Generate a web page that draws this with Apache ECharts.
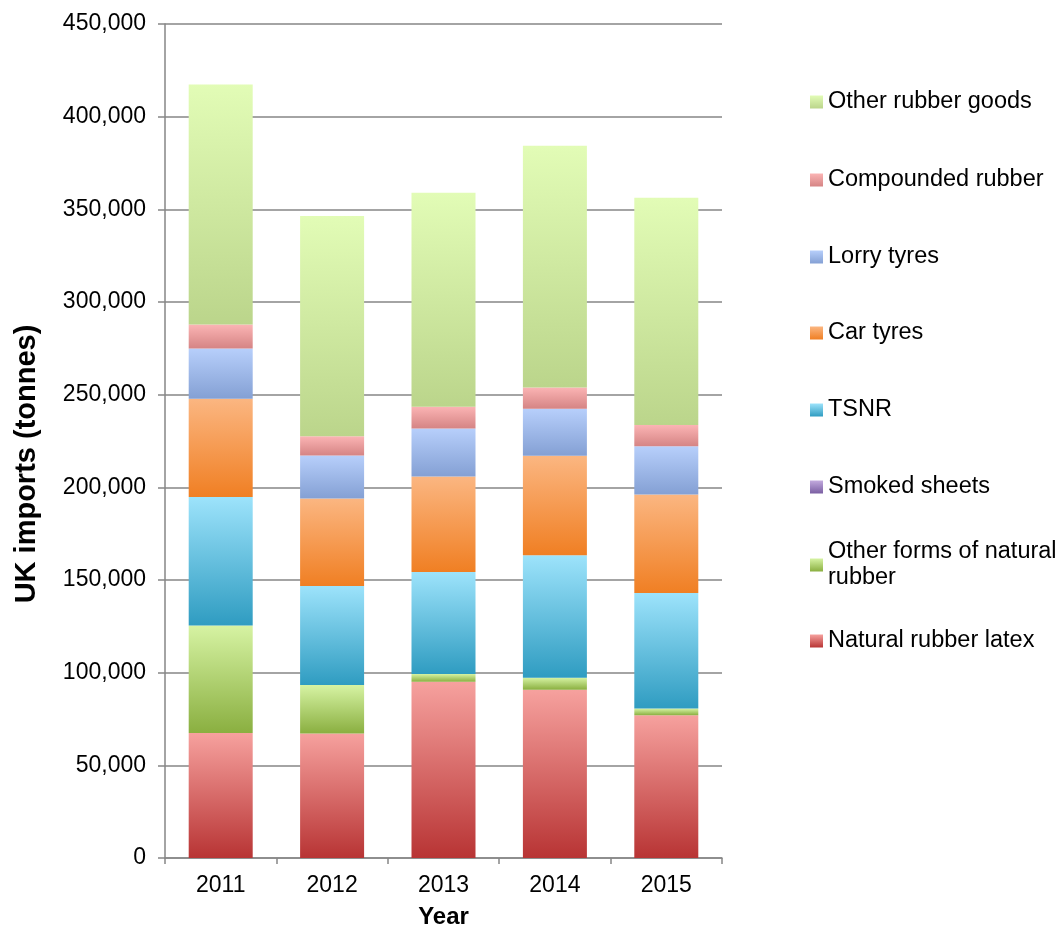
<!DOCTYPE html>
<html>
<head>
<meta charset="utf-8">
<script src="https://cdn.jsdelivr.net/npm/echarts@6/dist/echarts.min.js"></script>
<style>
html,body{margin:0;padding:0;background:#fff;}
#chart{width:1064px;height:934px;}
</style>
</head>
<body>
<div id="chart"></div>
<script>
// ---- Data (tonnes) ----
var years = ['2011', '2012', '2013', '2014', '2015'];
var naturalRubberLatex   = [67400, 67200, 95100, 90800, 77000];
var otherFormsNatural    = [58100, 26100, 4200, 6500, 3600];
var smokedSheets         = [0, 0, 0, 0, 0];
var tsnr                 = [69300, 53500, 55000, 66000, 62400];
var carTyres             = [53000, 47200, 51600, 53800, 53200];
var lorryTyres           = [27100, 23200, 25900, 25300, 25900];
var compoundedRubber     = [12900, 10300, 11700, 11500, 11500];
var otherRubberGoods     = [129500, 118900, 115500, 130400, 122700];
var yTicks = [0, 50000, 100000, 150000, 200000, 250000, 300000, 350000, 400000, 450000];

var seriesNames = ['Natural rubber latex', 'Other forms of natural rubber', 'Smoked sheets', 'TSNR',
                   'Car tyres', 'Lorry tyres', 'Compounded rubber', 'Other rubber goods'];
var seriesData = [naturalRubberLatex, otherFormsNatural, smokedSheets, tsnr,
                  carTyres, lorryTyres, compoundedRubber, otherRubberGoods];
var gradients = [
  ['#f6a19e', '#b83434'],
  ['#d6f3a3', '#8aaf40'],
  ['#c2aade', '#7a5ea2'],
  ['#9de3fb', '#2f9cc1'],
  ['#fbb681', '#f07f23'],
  ['#b7cffb', '#84a0d4'],
  ['#fbb4b4', '#d58484'],
  ['#e2fcb6', '#bbd58b']
];

var FONT = "'Liberation Sans', Arial, sans-serif";

function grad(c) {
  return new echarts.graphic.LinearGradient(0, 0, 0, 1, [
    { offset: 0, color: c[0] }, { offset: 1, color: c[1] }
  ]);
}

var series = seriesNames.map(function (n, i) {
  return {
    name: n,
    type: 'bar',
    stack: 'total',
    barWidth: 64,
    data: seriesData[i],
    itemStyle: { color: grad(gradients[i]) }
  };
});

// legend: reversed order (top item = top of stack)
var legendCenters = [102, 180, 257, 333, 410, 487, 565, 641];
var legendOrder = seriesNames.slice().reverse();
var legends = legendOrder.map(function (n, i) {
  var wrap = (n === 'Other forms of natural rubber');
  return {
    data: [n],
    orient: 'vertical',
    left: 810,
    top: wrap ? legendCenters[i] - 39 : legendCenters[i] - 13,
    padding: 0,
    itemWidth: 13,
    itemHeight: 13,
    itemGap: 5,
    icon: 'rect',
    selectedMode: false,
    formatter: wrap ? function () { return 'Other forms of natural\nrubber'; } : '{name}',
    textStyle: {
      fontFamily: FONT, fontSize: 23.5, color: '#000', lineHeight: 26,
      padding: wrap ? [26, 0, 0, 0] : 0
    }
  };
});

var chart = echarts.init(document.getElementById('chart'), null, { renderer: 'canvas' });
chart.setOption({
  animation: false,
  backgroundColor: '#fff',
  grid: { left: 165, right: 342, top: 24, bottom: 76, containLabel: false, outerBoundsMode: 'none' },
  legend: legends,
  xAxis: {
    type: 'category',
    data: years,
    name: 'Year',
    nameLocation: 'middle',
    nameGap: 47,
    nameTextStyle: { fontFamily: FONT, fontSize: 24, fontWeight: 'bold', color: '#000' },
    axisLine: { lineStyle: { color: '#868686', width: 1.5 } },
    axisTick: { show: true, alignWithLabel: false, length: 6, lineStyle: { color: '#868686', width: 1.5 } },
    axisLabel: { fontFamily: FONT, fontSize: 23, color: '#000', margin: 16 }
  },
  yAxis: {
    type: 'value',
    min: yTicks[0],
    max: yTicks[yTicks.length - 1],
    interval: yTicks[1] - yTicks[0],
    name: 'UK imports (tonnes)',
    nameLocation: 'middle',
    nameGap: 124,
    nameTextStyle: { fontFamily: FONT, fontSize: 29, fontWeight: 'bold', color: '#000', padding: [0, 46, 0, 0] },
    axisLine: { show: true, lineStyle: { color: '#868686', width: 1.5 } },
    axisTick: { show: true, length: 7, lineStyle: { color: '#868686', width: 1.5 } },
    splitLine: { show: true, lineStyle: { color: '#868686', width: 1.5 } },
    axisLabel: {
      fontFamily: FONT, fontSize: 23, color: '#000', margin: 19,
      formatter: function (v) { return v.toLocaleString('en-US'); }
    }
  },
  series: series
});
</script>
</body>
</html>
